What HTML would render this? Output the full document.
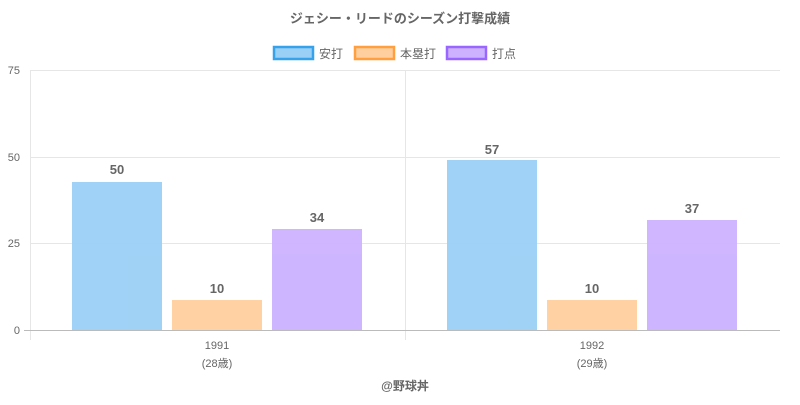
<!DOCTYPE html>
<html><head><meta charset="utf-8"><style>
body{margin:0;background:#fff;}
text{font-family:"Liberation Sans","Noto Sans CJK JP",sans-serif;}
</style></head><body>
<svg width="800" height="400" xmlns="http://www.w3.org/2000/svg">
<text x="400" y="23" text-anchor="middle" font-size="13" font-weight="bold" fill="#666">ジェシー・リードのシーズン打撃成績</text>
<rect x="274" y="47" width="39" height="12" fill="#9ad0f5" stroke="#36a2eb" stroke-width="2.5"/>
<text x="319" y="58" font-size="12" fill="#666">安打</text>
<rect x="355" y="47" width="39" height="12" fill="#ffcf9f" stroke="#ff9f40" stroke-width="2.5"/>
<text x="400" y="58" font-size="12" fill="#666">本塁打</text>
<rect x="447" y="47" width="39" height="12" fill="#ccb2ff" stroke="#9966ff" stroke-width="2.5"/>
<text x="492" y="58" font-size="12" fill="#666">打点</text>
<g stroke="#e6e6e6" stroke-width="1">
<line x1="30" y1="70.5" x2="780" y2="70.5"/>
<line x1="30" y1="157.5" x2="780" y2="157.5"/>
<line x1="30" y1="243.5" x2="780" y2="243.5"/>
<line x1="30.5" y1="70" x2="30.5" y2="340"/>
<line x1="405.5" y1="70" x2="405.5" y2="340"/>
</g>
<line x1="24" y1="330.5" x2="780" y2="330.5" stroke="#bbb"/>
<g font-size="11" fill="#666" text-anchor="end">
<text x="20" y="74">75</text><text x="20" y="161">50</text><text x="20" y="247">25</text><text x="20" y="334">0</text>
</g>
<g opacity="0.95">
<rect x="72" y="182" width="90" height="148" fill="#9ad0f5"/>
<rect x="172" y="300" width="90" height="30" fill="#ffcf9f"/>
<rect x="272" y="229" width="90" height="101" fill="#ccb2ff"/>
<rect x="447" y="160" width="90" height="170" fill="#9ad0f5"/>
<rect x="547" y="300" width="90" height="30" fill="#ffcf9f"/>
<rect x="647" y="220" width="90" height="110" fill="#ccb2ff"/>
</g>
<g font-size="13" font-weight="bold" fill="#666" text-anchor="middle">
<text x="117" y="174">50</text><text x="217" y="293">10</text><text x="317" y="222">34</text>
<text x="492" y="154">57</text><text x="592" y="293">10</text><text x="692" y="213">37</text>
</g>
<g font-size="11" fill="#666" text-anchor="middle">
<text x="217" y="349">1991</text><text x="217" y="367">(28歳)</text>
<text x="592" y="349">1992</text><text x="592" y="367">(29歳)</text>
</g>
<text x="405" y="390" text-anchor="middle" font-size="12" font-weight="bold" fill="#666">@野球丼</text>
</svg>
</body></html>
